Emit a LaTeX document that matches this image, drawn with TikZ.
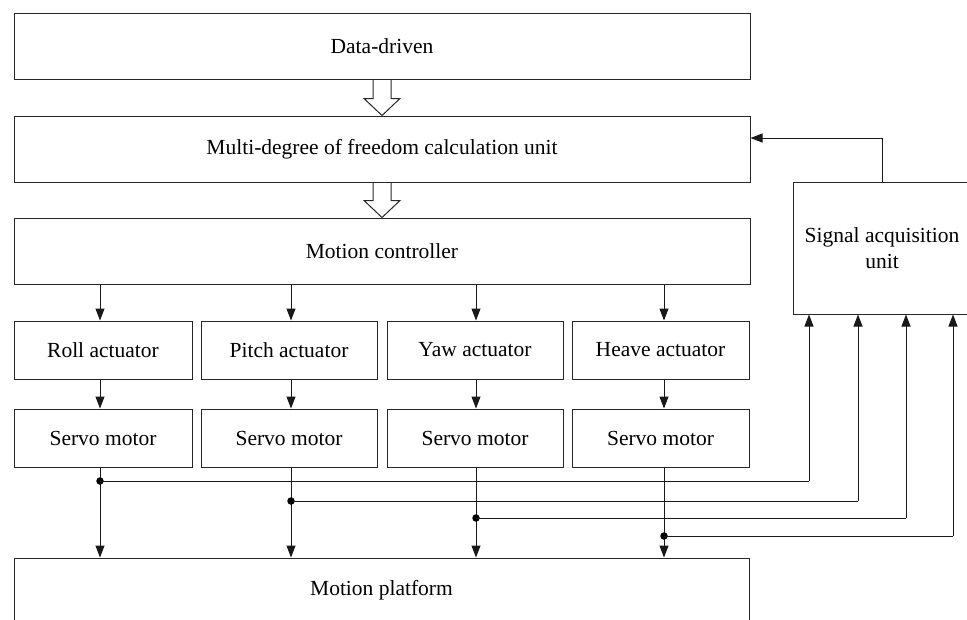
\documentclass[tikz,border=0pt]{standalone}
\usepackage{fontspec}
\setmainfont{Liberation Serif}
\usetikzlibrary{arrows.meta}
\begin{document}
\begin{tikzpicture}[x=1pt,y=-1pt,
  box/.style={draw=black!85, line width=1pt, rectangle, inner sep=0pt,
    font=\fontsize{21.5}{26}\selectfont, align=center},
  wide/.style={box, minimum width=736pt, minimum height=66pt},
  act/.style={box, minimum height=58pt},
  arr/.style={draw=black!90, line width=1pt, -{Triangle[length=12pt,width=9pt]}},
  ln/.style={draw=black!90, line width=1pt},
  jdot/.style={circle, fill=black, inner sep=0pt, minimum size=7.5pt},
  hollow/.style={draw=black!85, line width=1pt, line join=miter}]
\clip (0,0) rectangle (967,619);
% main boxes
\node[wide] (dd) at (382,46) {Data-driven};
\node[wide] (mdf) at (382,149) {Multi-degree of freedom calculation unit};
\node[wide] (mc) at (382,251) {Motion controller};
% actuators
\node[act, minimum width=178pt] (ra) at (103,350) {Roll actuator};
\node[act, minimum width=176pt] (pa) at (289,350) {Pitch actuator};
\node[act, minimum width=176pt] (ya) at (475,350) {Yaw actuator};
\node[act, minimum width=177pt] (ha) at (660.5,350) {Heave actuator};
% servo motors
\node[act, minimum width=178pt] (rs) at (103,438) {Servo motor};
\node[act, minimum width=176pt] (ps) at (289,438) {Servo motor};
\node[act, minimum width=176pt] (ys) at (475,438) {Servo motor};
\node[act, minimum width=177pt] (hs) at (660.5,438) {Servo motor};
% platform and signal unit
\node[box, minimum width=735pt, minimum height=64pt] (mp) at (381.5,590) {Motion platform};
\node[box, minimum width=178pt, minimum height=132pt] (sa) at (882,248) {Signal acquisition\\unit};
% hollow arrows
\draw[hollow] ([xshift=-9pt]dd.south) -- ([xshift=-9pt,yshift=-19pt]dd.south)
  -- ([xshift=-18pt,yshift=-19pt]dd.south) -- (mdf.north)
  -- ([xshift=18pt,yshift=-19pt]dd.south) -- ([xshift=9pt,yshift=-19pt]dd.south)
  -- ([xshift=9pt]dd.south);
\draw[hollow] ([xshift=-9pt]mdf.south) -- ([xshift=-9pt,yshift=-18pt]mdf.south)
  -- ([xshift=-18pt,yshift=-18pt]mdf.south) -- (mc.north)
  -- ([xshift=18pt,yshift=-18pt]mdf.south) -- ([xshift=9pt,yshift=-18pt]mdf.south)
  -- ([xshift=9pt]mdf.south);
% column coordinates
\coordinate (c1) at (100,0);
\coordinate (c2) at (291,0);
\coordinate (c3) at (476,0);
\coordinate (c4) at (664,0);
\coordinate (s1) at (809,0);
\coordinate (s2) at (858,0);
\coordinate (s3) at (906,0);
\coordinate (s4) at (953,0);
\coordinate (h1) at (0,481);
\coordinate (h2) at (0,501);
\coordinate (h3) at (0,518);
\coordinate (h4) at (0,536);
\coordinate (fb) at (0,138);
% controller -> actuators -> servos -> platform
\foreach \c/\a/\s in {c1/ra/rs, c2/pa/ps, c3/ya/ys, c4/ha/hs}{
  \draw[arr] (\c |- mc.south) -- (\c |- \a.north);
  \draw[arr] (\c |- \a.south) -- (\c |- \s.north);
  \draw[arr] (\c |- \s.south) -- (\c |- mp.north);
}
% feedback lines to signal acquisition
\foreach \c/\h/\s in {c1/h1/s1, c2/h2/s2, c3/h3/s3, c4/h4/s4}{
  \node[jdot] (j\c) at (\c |- \h) {};
  \draw[ln] (j\c.center) -- (\s |- \h);
  \draw[arr] (\s |- \h) -- (\s |- sa.south);
}
% signal acquisition -> multi-degree unit
\draw[arr] (sa.north) |- (mdf.east |- fb);
\end{tikzpicture}
\end{document}
